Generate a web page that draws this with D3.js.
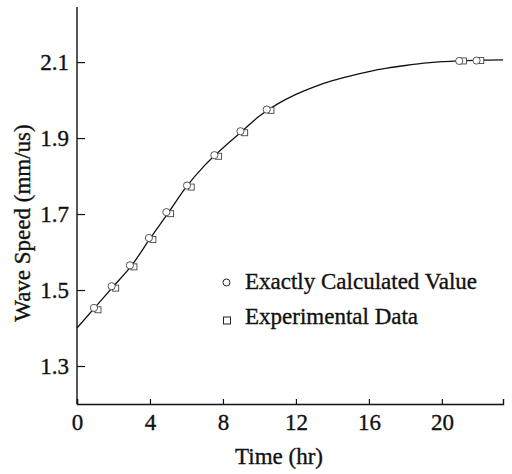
<!DOCTYPE html>
<html>
<head>
<meta charset="utf-8">
<style>
  body { margin: 0; background: #fff; }
  svg { display: block; }
  text { font-family: "Liberation Serif", "Times New Roman", serif; fill: #111; stroke: #111; stroke-width: 0.35px; }
</style>
</head>
<body>
<svg width="512" height="474"></svg>
<script src="https://d3js.org/d3.v7.min.js"></script>
<script>
// fitted curve (time hr, wave speed mm/us)
const curveTime  = [0, 1, 2, 3, 4, 5, 6, 7, 8, 9, 10, 11, 12, 13, 14, 15, 16, 17, 18, 19, 20, 21, 22, 23.35]
const curveSpeed = [1.40, 1.455, 1.51, 1.565, 1.635, 1.703, 1.772, 1.828, 1.874, 1.916, 1.958, 1.99, 2.015, 2.035, 2.051, 2.064, 2.075, 2.084, 2.091, 2.097, 2.101, 2.103, 2.105, 2.106]

// exactly calculated values (circles)
const calcTime  = [0.93, 1.9, 2.9, 3.94, 4.9, 6.03, 7.53, 8.96, 10.4, 20.95, 21.9]
const calcSpeed = [1.453, 1.51, 1.565, 1.637, 1.705, 1.775, 1.855, 1.918, 1.975, 2.103, 2.104]

// experimental data (squares)
const expTime  = [1.15, 2.12, 3.12, 4.16, 5.13, 6.26, 7.76, 9.19, 10.63, 21.18, 22.13]
const expSpeed = [1.448, 1.505, 1.561, 1.633, 1.701, 1.771, 1.852, 1.914, 1.973, 2.103, 2.104]

const xTicks = [0, 4, 8, 12, 16, 20]
const yTicks = [1.3, 1.5, 1.7, 1.9, 2.1]

const svg = d3.select("svg")
const margin = { left: 77, top: 7, right: 9, bottom: 70 }
const width = 512 - margin.left - margin.right
const height = 474 - margin.top - margin.bottom

const x = d3.scaleLinear().domain([0, 23.35]).range([0, width])
const y = d3.scaleLinear().domain([1.2, 2.245]).range([height, 0])

const g = svg.append("g").attr("transform", `translate(${margin.left},${margin.top})`)

// axes
const xAxis = g.append("g")
  .attr("transform", `translate(0,${height})`)
  .call(d3.axisBottom(x).tickValues(xTicks).tickSize(-5).tickPadding(10).tickFormat(d3.format("d")))
xAxis.select(".domain").attr("stroke", "#111").attr("stroke-width", 1.4)
xAxis.selectAll(".tick line").attr("stroke", "#111").attr("stroke-width", 1.2)
xAxis.selectAll(".tick text").attr("font-size", 23).attr("fill", "#111")
  .style("font-family", "'Liberation Serif', serif")

const yAxis = g.append("g")
  .call(d3.axisLeft(y).tickValues(yTicks).tickSize(-8).tickPadding(8).tickFormat(d3.format(".1f")))
yAxis.select(".domain").attr("stroke", "#111").attr("stroke-width", 1.4).attr("d", `M0,0V${height}`)
yAxis.selectAll(".tick line").attr("stroke", "#111").attr("stroke-width", 1.2)
yAxis.selectAll(".tick text").attr("font-size", 23).attr("fill", "#111")
  .style("font-family", "'Liberation Serif', serif")

// fitted curve
const curveData = curveTime.map((t, i) => [t, curveSpeed[i]])
g.append("path")
  .datum(curveData)
  .attr("fill", "none")
  .attr("stroke", "#111")
  .attr("stroke-width", 1.3)
  .attr("d", d3.line().x(d => x(d[0])).y(d => y(d[1])).curve(d3.curveMonotoneX))

// experimental squares
const s = 6
g.selectAll("rect.exp")
  .data(expTime.map((t, i) => [t, expSpeed[i]]))
  .join("rect")
  .attr("class", "exp")
  .attr("x", d => x(d[0]) - s / 2)
  .attr("y", d => y(d[1]) - s / 2)
  .attr("width", s).attr("height", s)
  .attr("fill", "#fff").attr("stroke", "#444").attr("stroke-width", 0.9)

// calculated circles
g.selectAll("circle.calc")
  .data(calcTime.map((t, i) => [t, calcSpeed[i]]))
  .join("circle")
  .attr("class", "calc")
  .attr("cx", d => x(d[0]))
  .attr("cy", d => y(d[1]))
  .attr("r", 3.6)
  .attr("fill", "#fff").attr("stroke", "#444").attr("stroke-width", 0.9)

// legend
const legend = svg.append("g")
legend.append("circle").attr("cx", 226.5).attr("cy", 282.5).attr("r", 3.5)
  .attr("fill", "none").attr("stroke", "#222").attr("stroke-width", 1)
legend.append("text").attr("x", 245).attr("y", 289).attr("font-size", 23)
  .text("Exactly Calculated Value")
legend.append("rect").attr("x", 223.5).attr("y", 317).attr("width", 7).attr("height", 7)
  .attr("fill", "none").attr("stroke", "#222").attr("stroke-width", 1)
legend.append("text").attr("x", 245).attr("y", 324).attr("font-size", 23)
  .text("Experimental Data")

// axis titles
svg.append("text")
  .attr("x", 279).attr("y", 464)
  .attr("text-anchor", "middle").attr("font-size", 23)
  .text("Time (hr)")
svg.append("text")
  .attr("transform", "translate(30,223) rotate(-90)")
  .attr("text-anchor", "middle").attr("font-size", 23)
  .text("Wave Speed (mm/us)")
</script>
</body>
</html>
